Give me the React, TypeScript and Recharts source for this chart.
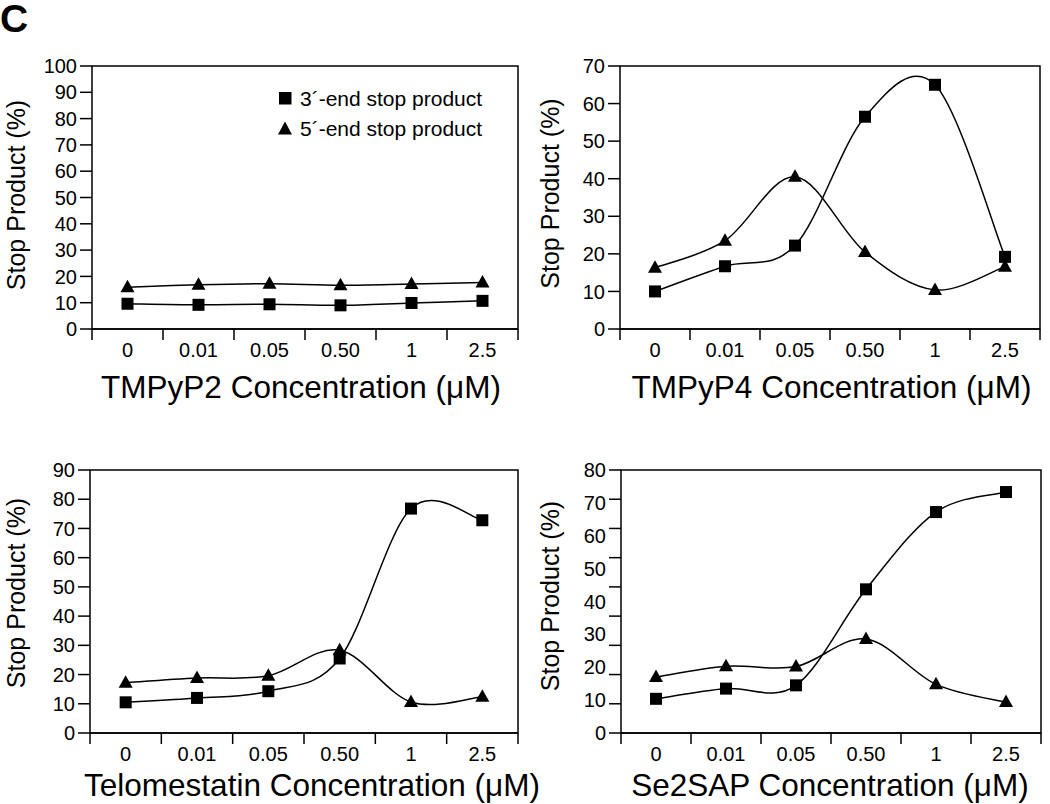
import { LineChart, Line, XAxis, YAxis, ReferenceArea, Legend } from "recharts";

const FONT = '"Liberation Sans", Arial, Helvetica, sans-serif';

// drug concentrations (µM), one category per band
const doses = ["0", "0.01", "0.05", "0.50", "1", "2.5"];

// stop product (%)
const tmpyp2End3 = [9.6, 9.2, 9.4, 9.0, 9.9, 10.7];
const tmpyp2End5 = [15.9, 16.8, 17.2, 16.6, 17.1, 17.7];

const tmpyp4End3 = [10.0, 16.7, 22.2, 56.5, 65.0, 19.2];
const tmpyp4End5 = [16.3, 23.5, 40.5, 20.5, 10.4, 16.6];

const telomestatinEnd3 = [10.5, 12.0, 14.3, 25.5, 76.8, 72.8];
const telomestatinEnd5 = [17.2, 18.8, 19.6, 28.3, 10.6, 12.4];

const se2sapEnd3 = [10.4, 13.5, 14.5, 43.7, 67.2, 73.3];
const se2sapEnd5 = [17.0, 20.3, 20.2, 28.6, 14.8, 9.4];

// y tick labels / tick marks
const ticksTo100 = [0, 10, 20, 30, 40, 50, 60, 70, 80, 90, 100];
const ticksTo90 = [0, 10, 20, 30, 40, 50, 60, 70, 80, 90];
const ticksTo80 = [0, 10, 20, 30, 40, 50, 60, 70, 80];
const ticksTo70 = [0, 10, 20, 30, 40, 50, 60, 70];

const END3_NAME = "3\u00B4-end stop product";
const END5_NAME = "5\u00B4-end stop product";

const X_TICK_SIZE = 11;
const X_TICK_MARGIN = 3;
const Y_TICK_SIZE = 12;
const Y_TICK_MARGIN = 3;

// smooth line through the points (Catmull-Rom, like a spreadsheet "smoothed line")
function smoothCurve(context: any) {
  let pts: number[][] = [];
  return {
    areaStart() {},
    areaEnd() {},
    lineStart() {
      pts = [];
    },
    point(x: number, y: number) {
      pts.push([+x, +y]);
    },
    lineEnd() {
      const n = pts.length;
      if (!n) return;
      context.moveTo(pts[0][0], pts[0][1]);
      for (let i = 0; i < n - 1; i++) {
        const p0 = pts[Math.max(i - 1, 0)];
        const p1 = pts[i];
        const p2 = pts[i + 1];
        const p3 = pts[Math.min(i + 2, n - 1)];
        context.bezierCurveTo(
          p1[0] + (p2[0] - p0[0]) / 6,
          p1[1] + (p2[1] - p0[1]) / 6,
          p2[0] - (p3[0] - p1[0]) / 6,
          p2[1] - (p3[1] - p1[1]) / 6,
          p2[0],
          p2[1]
        );
      }
    },
  };
}

function DoseTick(props: any) {
  const { x, y, payload, index, visibleTicksCount } = props;
  const half = payload?.offset ?? 0;
  const axisY = y - X_TICK_SIZE - X_TICK_MARGIN;
  return (
    <g>
      <line x1={x - half} x2={x - half} y1={axisY} y2={axisY + X_TICK_SIZE} stroke="#000" strokeWidth={1.5} />
      {index === visibleTicksCount - 1 && (
        <line x1={x + half} x2={x + half} y1={axisY} y2={axisY + X_TICK_SIZE} stroke="#000" strokeWidth={1.5} />
      )}
      <text x={x} y={y} dy="0.71em" textAnchor="middle" fontSize={20} fontFamily={FONT} fill="#000">
        {payload.value}
      </text>
    </g>
  );
}

// y tick: a label where the value is a labelled tick, a tick mark where it is a mark position
function ValueTick(props: any) {
  const { x, y, payload, labels, marks } = props;
  const v = payload.value;
  const near = (list: number[]) => list.some((m) => Math.abs(m - v) < 1e-6);
  const axisX = x + Y_TICK_MARGIN + Y_TICK_SIZE;
  return (
    <g>
      {near(marks) && <line x1={axisX - Y_TICK_SIZE} x2={axisX} y1={y} y2={y} stroke="#000" strokeWidth={1.5} />}
      {near(labels) && (
        <text x={x} y={y} dy="0.355em" textAnchor="end" fontSize={20} fontFamily={FONT} fill="#000">
          {v}
        </text>
      )}
    </g>
  );
}

function SquareDot(props: any) {
  const { cx, cy } = props;
  if (cx == null || cy == null) return null;
  return <rect x={cx - 6} y={cy - 6} width={12} height={12} fill="#000" />;
}

function TriangleDot(props: any) {
  const { cx, cy } = props;
  if (cx == null || cy == null) return null;
  return <polygon points={`${cx},${cy - 7.5} ${cx + 7},${cy + 5} ${cx - 7},${cy + 5}`} fill="#000" />;
}

function MarkerLegend({ payload }: any) {
  return (
    <div style={{ fontFamily: FONT, fontSize: 21, color: "#000", lineHeight: 1 }}>
      {(payload ?? []).map((entry: any) => (
        <div key={entry.value} style={{ display: "flex", alignItems: "center", height: 30, whiteSpace: "nowrap" }}>
          <svg width={14} height={14} style={{ marginRight: 8 }}>
            {entry.type === "triangle" ? (
              <polygon points="7,0.5 14,13.5 0,13.5" fill="#000" />
            ) : (
              <rect x={1} y={1} width={12.5} height={12.5} fill="#000" />
            )}
          </svg>
          <span>{entry.value}</span>
        </div>
      ))}
    </div>
  );
}

type PanelProps = {
  title: string;
  end3: number[];
  end5: number[];
  labelTicks: number[];
  markTicks: number[];
  left: number;
  top: number;
  width: number;
  height: number;
  margin: { top: number; right: number; bottom: number; left: number };
  axisWidth: number;
  yLabelOffset: number;
  yLabelDy: number;
  titleOffset: number;
  titleDx: number;
  showLegend?: boolean;
};

function Panel(p: PanelProps) {
  const data = doses.map((dose, i) => ({ dose, end3: p.end3[i], end5: p.end5[i] }));
  const yMax = p.labelTicks[p.labelTicks.length - 1];
  const markMax = p.markTicks[p.markTicks.length - 1];
  // tick marks are spread over the same axis height as the labels
  const marks = p.markTicks.map((v) => (v * yMax) / markMax);
  const allTicks = [...p.labelTicks, ...marks.filter((m) => !p.labelTicks.some((l) => Math.abs(l - m) < 1e-6))].sort(
    (a, b) => a - b
  );
  return (
    <div style={{ position: "absolute", left: p.left, top: p.top }}>
      <LineChart width={p.width} height={p.height} data={data} margin={p.margin}>
        <XAxis
          dataKey="dose"
          scale="band"
          interval={0}
          height={70}
          tickLine={false}
          tickSize={X_TICK_SIZE}
          tickMargin={X_TICK_MARGIN}
          axisLine={{ stroke: "#000", strokeWidth: 1.5 }}
          tick={(props: any) => <DoseTick {...props} />}
          label={{
            value: p.title,
            position: "insideBottom",
            offset: p.titleOffset,
            dx: p.titleDx,
            style: { fontSize: 31.5, fill: "#000", fontFamily: FONT, textAnchor: "middle" },
          }}
        />
        <YAxis
          type="number"
          domain={[0, yMax]}
          ticks={allTicks}
          interval={0}
          width={p.axisWidth}
          tickLine={false}
          axisLine={false}
          tickSize={Y_TICK_SIZE}
          tickMargin={Y_TICK_MARGIN}
          tick={(props: any) => <ValueTick {...props} labels={p.labelTicks} marks={marks} />}
          label={{
            value: "Stop Product (%)",
            angle: -90,
            position: "insideLeft",
            offset: p.yLabelOffset,
            dy: p.yLabelDy,
            style: { fontSize: 25, fill: "#000", fontFamily: FONT, textAnchor: "middle" },
          }}
        />
        <ReferenceArea y1={0} y2={yMax} fill="none" stroke="#000" strokeWidth={1.5} ifOverflow="visible" />
        {p.showLegend && (
          <Legend
            layout="vertical"
            align="center"
            verticalAlign="middle"
            content={<MarkerLegend />}
            wrapperStyle={{ left: 278, top: 83, width: "auto" }}
          />
        )}
        <Line
          type={smoothCurve as any}
          dataKey="end3"
          name={END3_NAME}
          legendType="square"
          stroke="#000"
          strokeWidth={1.5}
          dot={<SquareDot />}
          activeDot={false}
          isAnimationActive={false}
        />
        <Line
          type={smoothCurve as any}
          dataKey="end5"
          name={END5_NAME}
          legendType="triangle"
          stroke="#000"
          strokeWidth={1.5}
          dot={<TriangleDot />}
          activeDot={false}
          isAnimationActive={false}
        />
      </LineChart>
    </div>
  );
}

export default function App() {
  return (
    <div style={{ position: "absolute", left: 0, top: 0, width: 1050, height: 804, background: "#fff", fontFamily: FONT }}>
      <svg width={60} height={45} style={{ position: "absolute", left: 0, top: 0 }}>
        <text x={0} y={32} fontSize={39} fontWeight={700} fontFamily={FONT} fill="#000">
          C
        </text>
      </svg>
      <Panel
        title="TMPyP2 Concentration (μM)"
        end3={tmpyp2End3}
        end5={tmpyp2End5}
        labelTicks={ticksTo100}
        markTicks={ticksTo100}
        left={0}
        top={0}
        width={530}
        height={412}
        margin={{ top: 66, right: 12, bottom: 13, left: 0 }}
        axisWidth={92}
        yLabelOffset={16}
        yLabelDy={-2.5}
        titleOffset={1}
        titleDx={-4}
        showLegend
      />
      <Panel
        title="TMPyP4 Concentration (μM)"
        end3={tmpyp4End3}
        end5={tmpyp4End5}
        labelTicks={ticksTo70}
        markTicks={ticksTo70}
        left={520}
        top={0}
        width={530}
        height={412}
        margin={{ top: 66, right: 10, bottom: 13, left: 0 }}
        axisWidth={100}
        yLabelOffset={30}
        yLabelDy={-4}
        titleOffset={1}
        titleDx={1.5}
      />
      <Panel
        title="Telomestatin Concentration (μM)"
        end3={telomestatinEnd3}
        end5={telomestatinEnd5}
        labelTicks={ticksTo90}
        markTicks={ticksTo90}
        left={0}
        top={400}
        width={560}
        height={404}
        margin={{ top: 70, right: 42, bottom: 1, left: 0 }}
        axisWidth={90}
        yLabelOffset={16}
        yLabelDy={-8.5}
        titleOffset={7}
        titleDx={8}
      />
      <Panel
        title="Se2SAP Concentration (μM)"
        end3={se2sapEnd3}
        end5={se2sapEnd5}
        labelTicks={ticksTo80}
        markTicks={ticksTo90}
        left={520}
        top={400}
        width={530}
        height={404}
        margin={{ top: 70, right: 9, bottom: 1, left: 0 }}
        axisWidth={101}
        yLabelOffset={30}
        yLabelDy={-5.5}
        titleOffset={7}
        titleDx={-1}
      />
    </div>
  );
}
